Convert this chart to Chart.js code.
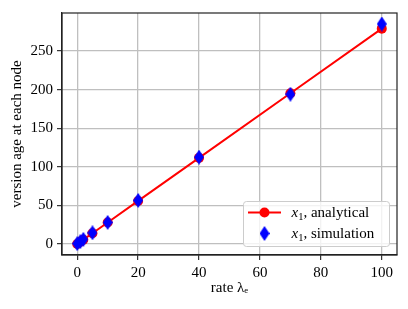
<!DOCTYPE html>
<html><head><meta charset="utf-8">
<script src="https://cdn.jsdelivr.net/npm/chart.js@4.4.0/dist/chart.umd.min.js"></script>
<style>html,body{margin:0;padding:0;background:#fff;overflow:hidden;}</style>
</head><body>
<canvas id="c" width="408" height="309" style="width:408px;height:309px;display:block"></canvas>
<script>
// ---- data ----
const rates = [0, 1, 2, 5, 10, 20, 40, 70, 100];
const analytical = [0, 2.8, 5.6, 14, 27.9, 55.8, 111.6, 195.3, 279];
const simulation = [0.5, 3, 6, 14.5, 28, 56.5, 112.5, 194, 285];
const xTicks = [0, 20, 40, 60, 80, 100];
const yTicks = [0, 50, 100, 150, 200, 250];
const seriesLabels = ['analytical', 'simulation'];

const FONT = "'Liberation Serif','DejaVu Serif',serif";
const RED = '#ff0000', BLUE = '#0000ff';

// thin diamond marker
function makeDiamond(w, h, color) {
  const c = document.createElement('canvas');
  c.width = w; c.height = h;
  const g = c.getContext('2d');
  g.fillStyle = color;
  g.beginPath();
  g.moveTo(w / 2, 0); g.lineTo(w, h / 2); g.lineTo(w / 2, h); g.lineTo(0, h / 2);
  g.closePath(); g.fill();
  return c;
}
const diamond = makeDiamond(10, 15, BLUE);

const boxPlugin = {
  id: 'box',
  afterDraw(chart) {
    const {ctx, chartArea: a} = chart;
    ctx.save();
    ctx.strokeStyle = '#222';
    ctx.lineWidth = 1.2;
    ctx.strokeRect(a.left, a.top, a.right - a.left, a.bottom - a.top);
    // legend
    const lx = 243.5, ly = 201.5, lw = 146, lh = 45, r = 3;
    ctx.beginPath();
    ctx.moveTo(lx + r, ly); ctx.lineTo(lx + lw - r, ly); ctx.arcTo(lx + lw, ly, lx + lw, ly + r, r);
    ctx.lineTo(lx + lw, ly + lh - r); ctx.arcTo(lx + lw, ly + lh, lx + lw - r, ly + lh, r);
    ctx.lineTo(lx + r, ly + lh); ctx.arcTo(lx, ly + lh, lx, ly + lh - r, r);
    ctx.lineTo(lx, ly + r); ctx.arcTo(lx, ly, lx + r, ly, r);
    ctx.closePath();
    ctx.fillStyle = 'rgba(255,255,255,0.8)';
    ctx.fill();
    ctx.strokeStyle = '#cccccc';
    ctx.lineWidth = 1;
    ctx.stroke();
    // entry 1
    const y1 = 212.5, y2 = 233.5, mx = 264.5;
    ctx.strokeStyle = RED; ctx.lineWidth = 2;
    ctx.beginPath(); ctx.moveTo(248, y1); ctx.lineTo(281, y1); ctx.stroke();
    ctx.fillStyle = RED;
    ctx.beginPath(); ctx.arc(mx, y1, 5, 0, Math.PI * 2); ctx.fill();
    ctx.drawImage(diamond, mx - 5, y2 - 7.5);
    const drawLabel = (txt, x, base) => {
      ctx.fillStyle = '#000';
      ctx.textBaseline = 'alphabetic';
      ctx.textAlign = 'left';
      ctx.font = 'italic 15px ' + FONT;
      ctx.fillText('x', x, base);
      let w = ctx.measureText('x').width;
      ctx.font = '10.5px ' + FONT;
      ctx.fillText('1', x + w, base + 3);
      w += ctx.measureText('1').width;
      ctx.font = '15px ' + FONT;
      ctx.fillText(', ' + txt, x + w, base);
    };
    drawLabel(seriesLabels[0], 291.5, 216.5);
    drawLabel(seriesLabels[1], 291.5, 237.5);
    ctx.restore();
  }
};

const axisCommon = (ticks) => ({
  type: 'linear',
  afterBuildTicks: (s) => { s.ticks = ticks.map(v => ({value: v})); },
  grid: { color: '#bfbfbf', lineWidth: 1.3, tickColor: '#222', tickLength: 5, tickWidth: 1.1, drawTicks: true },
  border: { display: true, color: '#222', width: 1.2 },
  ticks: { color: '#000', font: { family: FONT, size: 15 }, autoSkip: false, maxRotation: 0 }
});

const xAxis = axisCommon(xTicks);
xAxis.min = -5; xAxis.max = 105;
xAxis.ticks.padding = 4;
xAxis.title = { display: true, text: 'rate λₑ', color: '#000', font: { family: FONT, size: 15 }, padding: { top: 0, bottom: 12 } };
xAxis.afterFit = (s) => { s.height = 54; };

const yAxis = axisCommon(yTicks);
yAxis.min = -14.25; yAxis.max = 299.25;
yAxis.ticks.padding = 4;
yAxis.title = { display: true, text: 'version age at each node', color: '#000', font: { family: FONT, size: 15 }, padding: { top: 8, bottom: 0 } };
yAxis.afterFit = (s) => { s.width = 62; };

new Chart(document.getElementById('c'), {
  type: 'scatter',
  data: {
    datasets: [
      {
        label: 'x1, simulation',
        data: rates.map((r, i) => ({x: r, y: simulation[i]})),
        showLine: false,
        pointStyle: diamond,
        pointRadius: 6,
        order: 0
      },
      {
        label: 'x1, analytical',
        data: rates.map((r, i) => ({x: r, y: analytical[i]})),
        showLine: true,
        borderColor: RED,
        borderWidth: 2,
        backgroundColor: RED,
        pointStyle: 'circle',
        pointRadius: 5,
        pointBorderWidth: 0,
        pointBackgroundColor: RED,
        order: 1
      }
    ]
  },
  options: {
    responsive: false,
    animation: false,
    devicePixelRatio: 1,
    layout: { padding: { top: 11, right: 11, left: 0, bottom: 0 } },
    plugins: { legend: { display: false }, tooltip: { enabled: false } },
    scales: { x: xAxis, y: yAxis }
  },
  plugins: [boxPlugin]
});
</script>
</body></html>
